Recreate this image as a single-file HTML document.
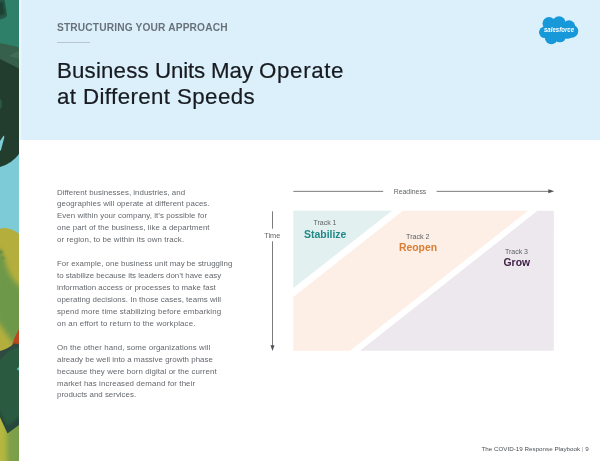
<!DOCTYPE html>
<html lang="en">
<head>
<meta charset="utf-8">
<title>Business Units May Operate at Different Speeds</title>
<style>
  html,body{margin:0;padding:0;}
  body{width:600px;height:461px;overflow:hidden;background:#fff;position:relative;
       font-family:"Liberation Sans",sans-serif;}
  .abs{position:absolute;}
  #header{left:19px;top:0;width:581px;height:139.6px;background:linear-gradient(to right,#f0f9fe 0,#e9f6fd 1.8px,#dcf0fc 2.8px);}
  #strip{left:0;top:0;width:20px;height:461px;}
  #eyebrow{left:57px;top:22px;font-size:10.2px;line-height:12px;letter-spacing:0.15px;color:#69727a;font-weight:bold;white-space:nowrap;}
  #rule{left:57px;top:42px;width:33px;height:1px;background:#b9c6cf;}
  #title{left:57px;top:57.5px;font-size:22.3px;line-height:26.2px;color:#181c20;white-space:nowrap;-webkit-text-stroke:0.22px #181c20;}
  #title .l1{letter-spacing:0.16px;}
  #title .l2{letter-spacing:0.4px;}
  #body{left:57px;top:186.5px;font-size:7.9px;line-height:11.94px;letter-spacing:0.06px;color:#64686d;white-space:nowrap;}
  #body p{margin:0 0 11.94px 0;}
  #footer{right:11.3px;top:443.7px;font-size:6.25px;line-height:9px;color:#4a4f54;white-space:nowrap;}
  #logo{left:538px;top:14px;width:42px;height:32px;}
  #chart{left:250px;top:170px;width:330px;height:200px;}
</style>
</head>
<body>
<div id="header" class="abs"></div>

<svg id="strip" class="abs" viewBox="0 0 20 461" preserveAspectRatio="none">
  <defs>
    <filter id="b2" x="-50%" y="-50%" width="200%" height="200%"><feGaussianBlur stdDeviation="2.5"/></filter>
    <filter id="b1" x="-50%" y="-50%" width="200%" height="200%"><feGaussianBlur stdDeviation="1.2"/></filter>
    <clipPath id="cs"><rect x="0" y="0" width="19" height="461"/></clipPath>
    <linearGradient id="yg" x1="0" x2="1" y1="0" y2="0"><stop offset="0" stop-color="#b6b83f"/><stop offset="0.22" stop-color="#adb441"/><stop offset="0.5" stop-color="#80a149"/><stop offset="1" stop-color="#789d4a"/></linearGradient>
  </defs>
  <g clip-path="url(#cs)">
    <rect x="0" y="0" width="20" height="461" fill="#2e8068"/>
    <polygon points="0,0 4.6,0 7,15.5 5,18 0,19.5" fill="#27584a"/>
    <g filter="url(#b1)"><polygon points="-2,2 3,2 5,14 -2,16" fill="#1d4132"/></g>
    <polygon points="0,43 20,47.5 20,70 0,60" fill="#36604b"/>
    <polygon points="9,56 20,50 20,59" fill="#416c57"/>
    <rect x="0" y="150" width="20" height="85" fill="#7ccbd6"/>
    <path d="M0,59 L20,69 L20,152.5 Q13,163 0,167 Z" fill="#223c2d"/>
    <ellipse cx="0" cy="104" rx="2" ry="5" fill="#2d5641"/>
    <polygon points="0,141 3.6,135.5 4.4,137 1,150 0,151" fill="#7ccbd6"/>
    <path d="M0,228.8 Q7,226 20,234.2 L20,461 L0,461 Z" fill="#b4af3d"/>
    <g filter="url(#b2)">
      <path d="M-6,246 Q3,250 5.5,262 Q10,282 26,290 L26,329 L14.5,345 L-5,318 Z" fill="#6e9848"/>
    </g>
    <g filter="url(#b1)"><circle cx="1" cy="252" r="1.6" fill="#4f7b3f"/><circle cx="3" cy="258" r="1.2" fill="#557f40"/></g>
    <polygon points="20,327 14.5,338 12,345 20,346" fill="#b9461f"/>
    <path d="M0,351 Q8,349 14,343.5 L20,344 L20,362 L0,362 Z" fill="#2f4a40"/>
    <path d="M0,360 L9,351 L20,346.5 L20,426 L7.5,434 L0,418 Z" fill="#2a5a40"/>
    <g filter="url(#b1)"><path d="M-2,409 L7.5,426 L22,415 L22,426 L7.5,436 L-2,419 Z" fill="#28473b"/></g>
    <path d="M0,417.3 L7.5,433.5 L20,424.3 L20,461 L0,461 Z" fill="url(#yg)"/>
    <polygon points="16.6,369 20,366 20,371.5" fill="#62bfae"/>
  </g>
</svg>

<div id="eyebrow" class="abs">STRUCTURING YOUR APPROACH</div>
<div id="rule" class="abs"></div>
<div id="title" class="abs"><span class="l1">Business <span style="letter-spacing:-0.17px">Units </span><span style="letter-spacing:-0.09px">May </span><span style="letter-spacing:0.64px">Operate</span></span><br><span class="l2">at Different Speeds</span></div>

<svg id="logo" class="abs" viewBox="0 0 42 32">
  <g fill="#1798d9">
    <circle cx="11" cy="9.6" r="6.5"/>
    <circle cx="21" cy="8.8" r="6.6"/>
    <circle cx="31" cy="12.6" r="6.3"/>
    <circle cx="33.7" cy="17.2" r="6.5"/>
    <circle cx="6.8" cy="18.3" r="5.8"/>
    <circle cx="13.3" cy="23.7" r="6.5"/>
    <circle cx="21.8" cy="21.8" r="6.5"/>
    <circle cx="29.4" cy="19.1" r="5.7"/>
    <rect x="8" y="9" width="26" height="13"/>
  </g>
  <text x="21" y="17.6" text-anchor="middle" font-family="Liberation Sans, sans-serif" font-size="6.6" font-weight="bold" font-style="italic" fill="#fff" textLength="30" lengthAdjust="spacingAndGlyphs">salesforce</text>
</svg>

<div id="body" class="abs">
<p><span style="letter-spacing:0.027px">Different businesses, industries, and</span><br>
<span style="letter-spacing:0.051px">geographies will operate at different paces.</span><br>
<span style="letter-spacing:0.050px">Even within your company, it’s possible for</span><br>
<span style="letter-spacing:0.081px">one part of the business, like a department</span><br>
<span style="letter-spacing:0.092px">or region, to be within its own track.</span></p>
<p><span style="letter-spacing:0.026px">For example, one business unit may be struggling</span><br>
<span style="letter-spacing:-0.017px">to stabilize because its leaders don’t have easy</span><br>
<span style="letter-spacing:0.011px">information access or processes to make fast</span><br>
<span style="letter-spacing:0.040px">operating decisions. In those cases, teams will</span><br>
<span style="letter-spacing:0.113px">spend more time stabilizing before embarking</span><br>
<span style="letter-spacing:0.132px">on an effort to return to the workplace.</span></p>
<p><span style="letter-spacing:0.092px">On the other hand, some organizations will</span><br>
<span style="letter-spacing:0.024px">already be well into a massive growth phase</span><br>
<span style="letter-spacing:0.078px">because they were born digital or the current</span><br>
<span style="letter-spacing:0.082px">market has increased demand for their</span><br>
<span style="letter-spacing:0.008px">products and services.</span></p>
</div>

<svg id="chart" class="abs" viewBox="250 170 330 200">
  <!-- axes -->
  <g stroke="#797b7e" stroke-width="1" fill="none">
    <line x1="293.3" y1="191.35" x2="383.2" y2="191.35"/>
    <line x1="436.6" y1="191.35" x2="549.5" y2="191.35"/>
    <line x1="272.5" y1="211.3" x2="272.5" y2="228.7"/>
    <line x1="272.5" y1="241.3" x2="272.5" y2="346.5"/>
  </g>
  <polygon points="554.2,191.35 548.3,189.35 548.3,193.35" fill="#4f5357"/>
  <polygon points="272.5,351 270.5,345.2 274.5,345.2" fill="#4f5357"/>
  <text x="410" y="194" text-anchor="middle" font-family="Liberation Sans, sans-serif" font-size="7.2" fill="#606468" textLength="32.7" lengthAdjust="spacingAndGlyphs">Readiness</text>
  <text x="272.3" y="237.6" text-anchor="middle" font-family="Liberation Sans, sans-serif" font-size="7.2" fill="#606468" textLength="16" lengthAdjust="spacingAndGlyphs">Time</text>
  <!-- tracks -->
  <polygon points="293.3,210.8 392,210.8 293.3,288" fill="#e3f0f0"/>
  <polygon points="402.8,210.8 528,210.8 350,350.8 293.3,350.8 293.3,297" fill="#fdeee6"/>
  <polygon points="537.5,210.8 553.8,210.8 553.8,350.8 360,350.8" fill="#ece8ed"/>
  <g font-family="Liberation Sans, sans-serif" text-anchor="middle">
    <text x="325" y="224.5" font-size="7" fill="#5e6266" textLength="23" lengthAdjust="spacingAndGlyphs">Track 1</text>
    <text x="325.2" y="237.5" font-size="10.8" font-weight="bold" fill="#1f8a87" textLength="42.5" lengthAdjust="spacingAndGlyphs">Stabilize</text>
    <text x="417.8" y="238.5" font-size="7" fill="#5e6266" textLength="23.5" lengthAdjust="spacingAndGlyphs">Track 2</text>
    <text x="418" y="251" font-size="10.8" font-weight="bold" fill="#d97f35" textLength="38" lengthAdjust="spacingAndGlyphs">Reopen</text>
    <text x="516.5" y="253.8" font-size="7" fill="#5e6266" textLength="23" lengthAdjust="spacingAndGlyphs">Track 3</text>
    <text x="516.8" y="266.2" font-size="10.8" font-weight="bold" fill="#3f2147" textLength="26.5" lengthAdjust="spacingAndGlyphs">Grow</text>
  </g>
</svg>

<div id="footer" class="abs">The COVID-19 Response Playbook <span style="color:#9aa0a5">|</span> 9</div>
</body>
</html>
